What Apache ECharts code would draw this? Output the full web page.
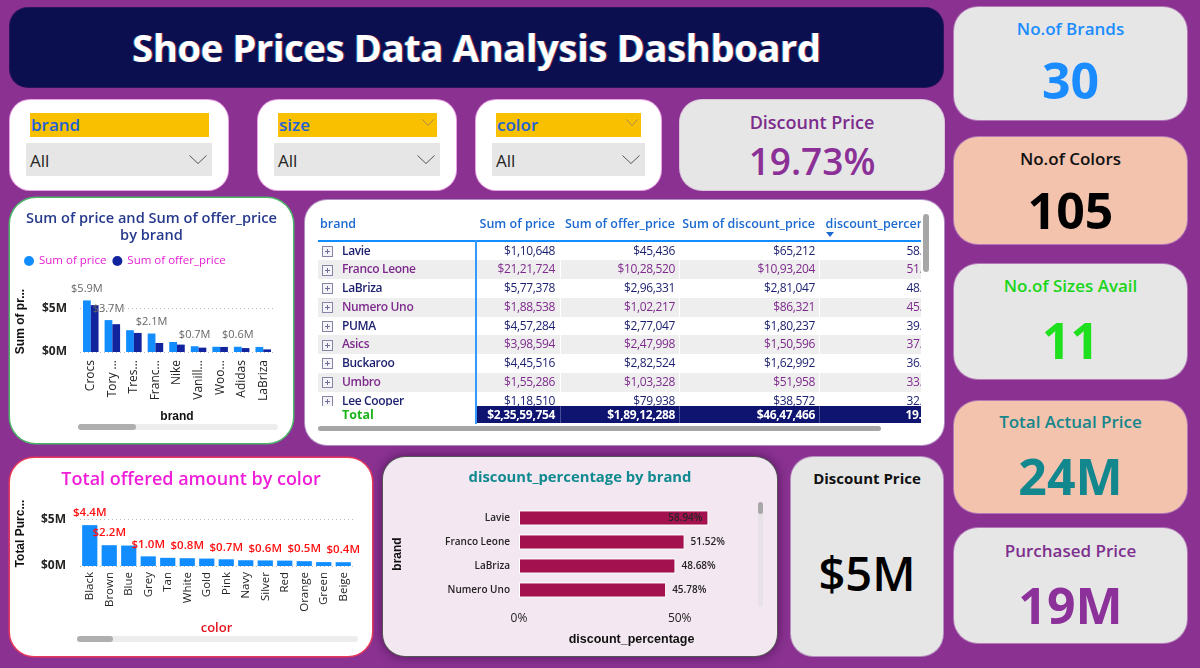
<!DOCTYPE html>
<html><head><meta charset="utf-8"><title>Shoe Prices Data Analysis Dashboard</title>
<script src="https://cdn.jsdelivr.net/npm/echarts@6.0.0/dist/echarts.min.js"></script>
<style>
*{box-sizing:border-box;margin:0;padding:0}
html,body{width:1200px;height:668px;overflow:hidden}
body{background:#8A3191;font-family:"Open Sans","Noto Sans",sans-serif;position:relative}
</style></head><body>
<script>
// ---------------- data ----------------
const dashboardTitle = "Shoe Prices Data Analysis Dashboard";
const filterNames = ["brand", "size", "color"];
const filterValue = "All";
const kpiTitles = ["No.of Brands", "No.of Colors", "No.of Sizes Avail", "Total Actual Price", "Purchased Price"];
const kpiValues = ["30", "105", "11", "24M", "19M"];
const discountRateTitle = "Discount Price";
const discountRateValue = "19.73%";
const discountAmtTitle = "Discount Price";
const discountAmtValue = "$5M";

// Sum of price and Sum of offer_price by brand ($M)
const brandCats = ["Crocs", "Tory ...", "Tres...", "Franc...", "Nike", "Vanill...", "Woo...", "Adidas", "LaBriza"];
const sumPrice = [5.92, 3.66, 2.5, 2.12, 1.15, 0.66, 0.6, 0.6, 0.58];
const sumOfferPrice = [5.38, 3.19, 2.19, 1.03, 0.85, 0.5, 0.58, 0.45, 0.3];

// Total offered amount by color ($M)
const colorCats = ["Black", "Brown", "Blue", "Grey", "Tan", "White", "Gold", "Pink", "Navy", "Silver", "Red", "Orange", "Green", "Beige"];
const offeredByColor = [4.4, 2.24, 2.2, 1.04, 0.88, 0.84, 0.8, 0.72, 0.62, 0.6, 0.58, 0.52, 0.42, 0.41];

// discount_percentage by brand (%)
const discBrands = ["Lavie", "Franco Leone", "LaBriza", "Numero Uno"];
const discPct = [58.94, 51.52, 48.68, 45.78];

// table
const tableHeaders = ["brand", "Sum of price", "Sum of offer_price", "Sum of discount_price", "discount_percentage"];
const tableBrands = ["Lavie", "Franco Leone", "LaBriza", "Numero Uno", "PUMA", "Asics", "Buckaroo", "Umbro", "Lee Cooper"];
const tablePrice = [110648, 2121724, 577378, 188538, 457284, 398594, 445516, 155286, 118510];
const tableOffer = [45436, 1028520, 296331, 102217, 277047, 247998, 282524, 103328, 79938];
const tableDiscount = [65212, 1093204, 281047, 86321, 180237, 150596, 162992, 51958, 38572];
const tableDiscPct = [58.94, 51.52, 48.68, 45.78, 39.41, 37.78, 36.58, 33.46, 32.55];
const tableTotals = [23559754, 18912288, 4647466, 19.73];

// ---------------- helpers ----------------
const FONT = '"Open Sans","Noto Sans",sans-serif';
const ARIAL = '"Liberation Sans","DejaVu Sans",Arial,sans-serif';
const root = document.body;
function box(parent, css) { const d = document.createElement('div'); d.style.cssText = 'position:absolute;' + css; parent.appendChild(d); return d; }
function txt(parent, text, css) { const d = box(parent, 'white-space:nowrap;' + css); d.textContent = text; return d; }
function ctext(parent, text, cy, size, weight, color, extra) {
  const lh = Math.round(size * 1.3);
  return txt(parent, text, `left:0;width:100%;text-align:center;top:${cy - lh / 2}px;height:${lh}px;line-height:${lh}px;font-size:${size}px;font-weight:${weight};color:${color};${extra || ''}`);
}
function chevron(parent, css, color, w, h) {
  const s = document.createElementNS('http://www.w3.org/2000/svg', 'svg');
  s.setAttribute('width', w); s.setAttribute('height', h);
  s.style.cssText = 'position:absolute;' + css;
  s.innerHTML = `<polyline points="0.5,0.5 ${w / 2},${h - 0.5} ${w - 0.5},0.5" fill="none" stroke="${color}" stroke-width="1"/>`;
  parent.appendChild(s); return s;
}
function inr(n) {
  const s = String(Math.round(n));
  if (s.length <= 3) return '$' + s;
  const last3 = s.slice(-3); let rest = s.slice(0, -3); const parts = [];
  while (rest.length > 2) { parts.unshift(rest.slice(-2)); rest = rest.slice(0, -2); }
  if (rest) parts.unshift(rest);
  return '$' + parts.join(',') + ',' + last3;
}

// ---------------- header ----------------
const hdr = box(root, 'left:10px;top:8px;width:933px;height:79px;background:#0B0F4F;border-radius:18px;box-shadow:0 0 0 1px #2a1460');
ctext(hdr, dashboardTitle, 39, 38, 700, '#fff', 'letter-spacing:-0.3px;text-shadow:1px 0 0 rgba(255,60,60,.5),-1px 0 0 rgba(60,220,255,.5)');

// ---------------- filters ----------------
const filterLayout = [
  { l: 10, w: 218, yl: 20, yw: 179, dl: 16, dw: 186, ych: false },
  { l: 258, w: 198, yl: 20, yw: 159, dl: 16, dw: 166, ych: true },
  { l: 476, w: 185, yl: 20, yw: 145, dl: 16, dw: 153, ych: true }
];
filterNames.forEach((name, i) => {
  const L = filterLayout[i];
  const c = box(root, `left:${L.l}px;top:100px;width:${L.w}px;height:90px;background:#fff;border-radius:20px;box-shadow:0 0 0 1px #E9A5E3`);
  const y = box(c, `left:${L.yl}px;top:13px;width:${L.yw}px;height:24px;background:#F9C000`);
  txt(y, name, 'left:1px;top:0;line-height:24px;font-size:17px;font-weight:600;color:#2062D8');
  if (L.ych) chevron(y, 'right:3px;top:6px', '#A88A50', 12, 7);
  const d = box(c, `left:${L.dl}px;top:43px;width:${L.dw}px;height:33px;background:#E6E6E6`);
  txt(d, filterValue, 'left:4px;top:0;line-height:36px;font-size:17px;color:#252423');
  chevron(d, 'right:5px;top:12px', '#555', 18, 9);
});

// ---------------- KPI: discount rate ----------------
const dr = box(root, 'left:680px;top:100px;width:264px;height:90px;background:#E6E6E6;border-radius:22px;box-shadow:0 0 0 1px #d9c6dc');
ctext(dr, discountRateTitle, 22, 18, 600, '#7B2C8C');
ctext(dr, discountRateValue, 61, 37, 600, '#8B3097');

// ---------------- right KPI cards ----------------
const kpiLayout = [
  { t: 7, h: 113, bg: '#E6E6E6', tc: '#1A8CFF', vc: '#1A8CFF', ty: 22, vy: 73 },
  { t: 137, h: 107, bg: '#F4C3AE', tc: '#111', vc: '#000', ty: 22, vy: 73 },
  { t: 264, h: 115, bg: '#E6E6E6', tc: '#1BD51B', vc: '#1EE01E', ty: 22, vy: 76 },
  { t: 401, h: 112, bg: '#F4C3AE', tc: '#14868C', vc: '#12878E', ty: 21, vy: 75 },
  { t: 528, h: 115, bg: '#E6E6E6', tc: '#7E2F8E', vc: '#8C3199', ty: 23, vy: 77 }
];
kpiTitles.forEach((t, i) => {
  const L = kpiLayout[i];
  const c = box(root, `left:954px;top:${L.t}px;width:233px;height:${L.h}px;background:${L.bg};border-radius:24px;box-shadow:0 0 0 1px rgba(255,255,255,.35)`);
  ctext(c, t, L.ty, 17, 600, L.tc);
  ctext(c, kpiValues[i], L.vy, 50, 700, L.vc);
});

// ---------------- KPI: discount amount ----------------
const da = box(root, 'left:791px;top:457px;width:152px;height:199px;background:#E6E6E6;border-radius:22px;box-shadow:0 0 0 1px #b58fbd');
ctext(da, discountAmtTitle, 21, 15, 700, '#111');
ctext(da, discountAmtValue, 116, 47, 600, '#000');

// ---------------- chart cards ----------------
const card1 = box(root, 'left:10px;top:198px;width:283px;height:245px;background:#fff;border-radius:26px;box-shadow:0 0 0 1.5px #4DB36A');
const card2 = box(root, 'left:10px;top:458px;width:362px;height:198px;background:#fff;border-radius:24px;box-shadow:0 0 0 1.5px #E8385A');
const card3 = box(root, 'left:383px;top:457px;width:394px;height:199px;background:#F3E7F2;border-radius:22px;box-shadow:0 0 0 1px #555,0 0 10px 2px rgba(40,0,50,.45)');
const c1div = box(card1, 'left:0;top:0;width:283px;height:245px');
const c2div = box(card2, 'left:0;top:0;width:362px;height:198px');
const c3div = box(card3, 'left:0;top:0;width:394px;height:199px');

const showLbl = i => i === 0 || i % 2 === 1;   // overlap-hidden labels, as in the picture
const mfmt = v => '$' + v.toFixed(1) + 'M';
const scrollbarH = (x, y, w, tw) => ([
  { type: 'rect', shape: { x: x, y: y, width: w, height: 6, r: 3 }, style: { fill: '#EDEDED' }, silent: true },
  { type: 'rect', shape: { x: x, y: y, width: tw, height: 6, r: 3 }, style: { fill: '#AFAFAF' }, silent: true }
]);

// chart 1
const c1 = echarts.init(c1div, null, { renderer: 'canvas' });
c1.setOption({
  animation: false,
  textStyle: { fontFamily: FONT },
  title: { text: 'Sum of price and Sum of offer_price\nby brand', left: 'center', top: 12, padding: 0,
    textStyle: { fontSize: 14.6, fontWeight: 600, color: '#26398C', lineHeight: 17, fontFamily: FONT } },
  legend: { left: 14, top: 57, padding: 0, icon: 'circle', itemWidth: 10, itemHeight: 10, itemGap: 6,
    textStyle: { fontSize: 11.5, color: '#E61ED3', fontFamily: FONT } },
  grid: { left: 70, right: 19, top: 93, bottom: 91, outerBoundsMode: 'none' },
  xAxis: { type: 'category', data: brandCats, axisLine: { show: false }, axisTick: { show: false },
    axisLabel: { interval: 0, rotate: 90, margin: 8, fontSize: 12, color: '#252423', fontFamily: FONT },
    name: 'brand', nameLocation: 'middle', nameGap: 59,
    nameTextStyle: { fontFamily: ARIAL, fontWeight: 'bold', fontSize: 12, color: '#111' } },
  yAxis: { type: 'value', min: 0, max: 7, interval: 5,
    axisLabel: { showMaxLabel: false, formatter: v => '$' + v + 'M', margin: 13, fontSize: 12, fontWeight: 'bold', color: '#252423', fontFamily: FONT },
    splitLine: { showMaxLine: false, lineStyle: { type: [1, 3], color: '#BBBBBB' } },
    name: 'Sum of pr...', nameLocation: 'middle', nameGap: 53,
    nameTextStyle: { fontFamily: ARIAL, fontWeight: 'bold', fontSize: 12, color: '#111' } },
  series: [
    { type: 'bar', name: 'Sum of price', data: sumPrice, barGap: '0%', barCategoryGap: '28%', itemStyle: { color: '#118DFF' },
      label: { show: true, position: 'top', distance: 6, color: '#666', fontSize: 11, fontFamily: FONT,
        formatter: p => showLbl(p.dataIndex) ? mfmt(p.value) : '' } },
    { type: 'bar', name: 'Sum of offer_price', data: sumOfferPrice, itemStyle: { color: '#12239E' } }
  ],
  graphic: scrollbarH(68, 226, 200, 58)
});

// chart 2
const c2 = echarts.init(c2div, null, { renderer: 'canvas' });
c2.setOption({
  animation: false,
  textStyle: { fontFamily: FONT },
  title: { text: 'Total offered amount by color', left: 'center', top: 11, padding: 0,
    textStyle: { fontSize: 18, fontWeight: 600, color: '#F01ED8', lineHeight: 22, fontFamily: FONT } },
  grid: { left: 70, right: 19, top: 43, bottom: 90, outerBoundsMode: 'none' },
  xAxis: { type: 'category', data: colorCats, axisLine: { show: false }, axisTick: { show: false },
    axisLabel: { interval: 0, rotate: 90, margin: 6, fontSize: 11.5, color: '#252423', fontFamily: FONT },
    name: 'color', nameLocation: 'middle', nameGap: 56,
    nameTextStyle: { fontFamily: FONT, fontWeight: 600, fontSize: 13, color: '#E3141E' } },
  yAxis: { type: 'value', min: 0, max: 7, interval: 5,
    axisLabel: { showMaxLabel: false, formatter: v => '$' + v + 'M', margin: 14, fontSize: 12, fontWeight: 'bold', color: '#252423', fontFamily: FONT },
    splitLine: { showMaxLine: false, lineStyle: { type: [1, 3], color: '#BBBBBB' } },
    name: 'Total Purc...', nameLocation: 'middle', nameGap: 53,
    nameTextStyle: { fontFamily: ARIAL, fontWeight: 'bold', fontSize: 12, color: '#111' } },
  series: [
    { type: 'bar', name: 'Total offered amount', data: offeredByColor, barCategoryGap: '22%', itemStyle: { color: '#118DFF' },
      label: { show: true, position: 'top', distance: 6, color: '#FF1010', fontSize: 11.5, fontWeight: 600, fontFamily: FONT,
        formatter: p => showLbl(p.dataIndex) ? mfmt(p.value) : '' } }
  ],
  graphic: scrollbarH(67, 178, 281, 36)
});

// chart 3
const xMax3 = 70;
const c3 = echarts.init(c3div, null, { renderer: 'canvas' });
c3.setOption({
  animation: false,
  textStyle: { fontFamily: FONT },
  title: { text: 'discount_percentage by brand', left: 'center', top: 11, padding: 0,
    textStyle: { fontSize: 14.8, fontWeight: 'bold', color: '#118A8F', lineHeight: 20, fontFamily: FONT } },
  grid: { left: 136, right: 33, top: 49, bottom: 54, outerBoundsMode: 'none' },
  xAxis: { type: 'value', min: 0, max: xMax3, interval: 50, splitLine: { show: false },
    axisLabel: { showMaxLabel: false, formatter: v => v + '%', margin: 11, fontSize: 12, color: '#252423', fontFamily: FONT },
    name: 'discount_percentage', nameLocation: 'middle', nameGap: 31,
    nameTextStyle: { fontFamily: ARIAL, fontWeight: 'bold', fontSize: 12.5, color: '#111' } },
  yAxis: { type: 'category', data: discBrands, inverse: true, axisLine: { show: false }, axisTick: { show: false },
    axisLabel: { margin: 9, fontSize: 10, fontWeight: 600, color: '#252423', fontFamily: FONT },
    name: 'brand', nameLocation: 'middle', nameGap: 115,
    nameTextStyle: { fontFamily: ARIAL, fontWeight: 'bold', fontSize: 12, color: '#111' } },
  series: [
    { type: 'bar', name: 'discount_percentage',
      data: discPct.map(v => ({ value: v, label: { position: v / xMax3 > 0.8 ? 'insideRight' : 'right' } })),
      barCategoryGap: '37%', itemStyle: { color: '#A3114F', borderColor: '#fff', borderWidth: 1 },
      label: { show: true, distance: 6, color: '#252423', fontSize: 10, fontWeight: 600, fontFamily: FONT,
        formatter: p => p.value.toFixed(2) + '%' } }
  ],
  graphic: [
    { type: 'rect', shape: { x: 375, y: 45, width: 5, height: 105, r: 2.5 }, style: { fill: '#E9E1E8' }, silent: true },
    { type: 'rect', shape: { x: 375, y: 45, width: 5, height: 12, r: 2.5 }, style: { fill: '#A8A8A8' }, silent: true }
  ]
});

// ---------------- table ----------------
const tb = box(root, 'left:305px;top:200px;width:639px;height:245px;background:#fff;border-radius:22px;box-shadow:0 0 0 1px #B08CC0');
const clip = box(tb, 'left:13px;top:0;width:603px;height:245px;overflow:hidden');
const colRightCss = [null, 366, 246, 106, -24];   // right offsets of value columns in clip
const headRightCss = [null, 366, 246, 106, -30];
const HB = 'font-size:12.5px;font-weight:600;color:#1C6AD1;top:15px;line-height:18px;height:18px;';
txt(clip, tableHeaders[0], 'left:2px;' + HB);
for (let c = 1; c < 5; c++) txt(clip, tableHeaders[c], `right:${headRightCss[c]}px;` + HB);
box(clip, 'left:508px;top:32px;width:0;height:0;border-left:4px solid transparent;border-right:4px solid transparent;border-top:5px solid #1C6AD1');
// rows
const rows = box(clip, 'left:0;top:41.5px;width:603px;height:164.2px;overflow:hidden');
const RH = 18.75;
const CELL = 'font-size:12px;letter-spacing:-0.35px;';
tableBrands.forEach((b, i) => {
  const even = i % 2 === 1;
  const col = even ? '#7E2A8D' : '#1B1F6E';
  const r = box(rows, `left:0;top:${i * RH}px;width:603px;height:${RH}px;background:${even ? '#EEEEEE' : '#fff'}`);
  const ic = box(r, `left:4px;top:${RH / 2 - 5}px;width:11px;height:11px;border:1px solid #8585A8;background:#F4F4F8`);
  box(ic, 'left:2px;top:4px;width:5px;height:1px;background:#6E6E98');
  box(ic, 'left:4px;top:2px;width:1px;height:5px;background:#6E6E98');
  const T = CELL + `color:${col};top:0;line-height:${RH}px;`;
  txt(r, b, 'left:24px;font-weight:600;' + T);
  txt(r, inr(tablePrice[i]), `right:${colRightCss[1]}px;` + T);
  txt(r, inr(tableOffer[i]), `right:${colRightCss[2]}px;` + T);
  txt(r, inr(tableDiscount[i]), `right:${colRightCss[3]}px;` + T);
  txt(r, tableDiscPct[i].toFixed(2) + '%', `right:${colRightCss[4]}px;` + T);
  [242, 361, 501].forEach(x => box(r, `left:${x}px;top:0;width:1px;height:${RH}px;background:#fff`));
});
// total row
box(clip, 'left:157px;top:205.7px;width:446px;height:17.6px;background:#0F1470');
[242, 361, 501].forEach(x => box(clip, `left:${x}px;top:205.7px;width:1px;height:17.6px;background:#4A4F98`));
txt(clip, 'Total', 'left:24px;top:205.7px;line-height:17.6px;font-size:12.5px;font-weight:700;color:#1DB31D');
const TT = CELL + 'top:205.7px;line-height:17.6px;font-weight:700;color:#fff;';
txt(clip, inr(tableTotals[0]), `right:${colRightCss[1]}px;` + TT);
txt(clip, inr(tableTotals[1]), `right:${colRightCss[2]}px;` + TT);
txt(clip, inr(tableTotals[2]), `right:${colRightCss[3]}px;` + TT);
txt(clip, tableTotals[3].toFixed(2) + '%', `right:${colRightCss[4]}px;` + TT);
// lines
box(clip, 'left:0;top:39.5px;width:603px;height:2px;background:#118DFF');
box(clip, 'left:157px;top:40px;width:1.5px;height:183.5px;background:#3399FF');
// scrollbars
box(tb, 'left:618px;top:14px;width:6px;height:58px;background:#A6A6A6;border-radius:3px');
box(tb, 'left:13px;top:226px;width:563px;height:5px;background:#A6A6A6;border-radius:3px');
</script>
</body></html>
